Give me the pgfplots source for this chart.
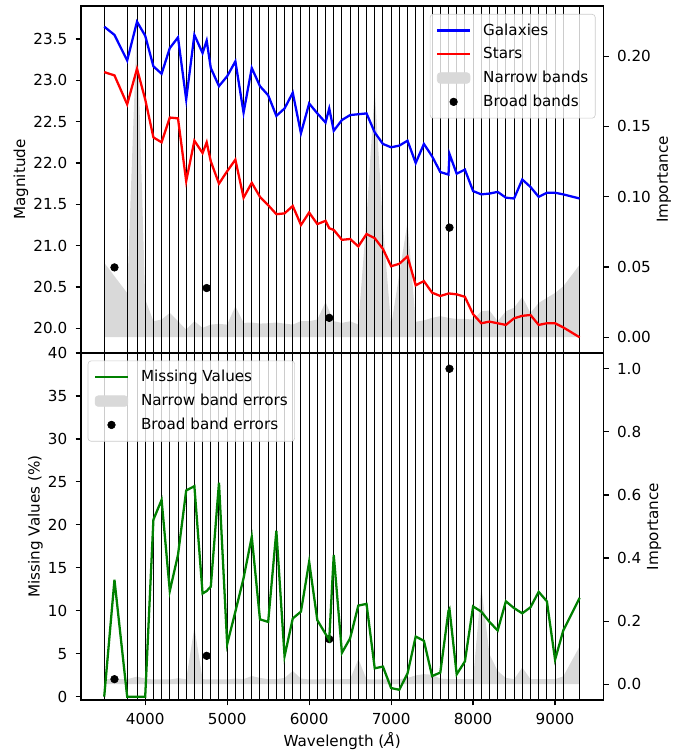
\documentclass[border=0pt]{standalone}
\usepackage{fontspec}
\setmainfont{DejaVu Sans}
\usepackage{pgfplots}
\usepackage{pgfplotstable}
\pgfplotsset{compat=1.18}

\definecolor{bandgray}{RGB}{217,217,217}
\definecolor{mvgreen}{RGB}{0,128,0}

% all bands (narrow + broad), sorted by wavelength
\pgfplotstableread{
wl    gal    star   miss
3500  23.65  23.10  0.0
3625  23.55  23.06  13.6
3780  23.24  22.71  0.0
3900  23.71  23.14  0.0
4000  23.54  22.77  0.0
4100  23.17  22.31  20.6
4200  23.08  22.25  22.9
4300  23.39  22.55  12.3
4400  23.52  22.54  16.5
4500  22.77  21.78  24.0
4600  23.55  22.27  24.5
4700  23.33  22.12  12.0
4750  23.48  22.25  12.3
4800  23.15  22.02  12.8
4900  22.93  21.75  24.9
5000  23.05  21.90  6.1
5100  23.23  22.04  9.9
5200  22.61  21.58  13.8
5300  23.15  21.76  18.6
5400  22.93  21.59  9.0
5500  22.82  21.49  8.7
5600  22.57  21.38  19.3
5700  22.66  21.39  4.7
5800  22.85  21.48  9.1
5900  22.36  21.25  9.9
6000  22.72  21.40  15.7
6100  22.60  21.26  8.9
6200  22.49  21.30  7.3
6245  22.66  21.21  6.6
6300  22.39  21.19  16.5
6400  22.52  21.07  5.1
6500  22.58  21.08  6.8
6600  22.59  20.99  10.6
6700  22.60  21.14  10.8
6800  22.37  21.09  3.3
6900  22.23  20.96  3.5
7000  22.19  20.75  1.0
7100  22.21  20.78  0.8
7200  22.27  20.87  2.7
7300  22.00  20.52  7.0
7400  22.23  20.57  6.5
7500  22.08  20.43  2.4
7600  21.89  20.39  2.8
7700  21.86  20.42  10.0
7712  22.11  20.42  10.2
7800  21.87  20.41  2.6
7900  21.92  20.38  4.1
8000  21.66  20.17  10.5
8100  21.62  20.06  9.9
8200  21.63  20.08  8.7
8300  21.65  20.06  7.7
8400  21.58  20.04  11.1
8500  21.57  20.12  10.3
8600  21.80  20.15  9.7
8700  21.71  20.16  10.4
8800  21.59  20.04  12.2
8900  21.64  20.06  11.1
9000  21.64  20.06  4.3
9100  21.62  20.01  7.7
9300  21.57  19.89  11.5
}\bands

% narrow bands: importance (magnitudes) and importance (errors)
\pgfplotstableread{
wl    imp     err
3500  0.053   0.016
3780  0.0315  0.016
3900  0.224   0.024
4000  0.027   0.018
4100  0.0114  0.015
4200  0.0126  0.015
4300  0.0173  0.015
4400  0.0114  0.019
4500  0.0055  0.016
4600  0.0114  0.18
4700  0.0067  0.016
4800  0.009   0.015
4900  0.0095  0.015
5000  0.009   0.015
5100  0.022   0.018
5200  0.0102  0.016
5300  0.0105  0.026
5400  0.0097  0.02
5500  0.010   0.016
5600  0.0105  0.016
5700  0.0097  0.02
5800  0.009   0.042
5900  0.0114  0.018
6000  0.0114  0.015
6100  0.0126  0.015
6200  0.025   0.018
6300  0.0114  0.015
6400  0.0102  0.016
6500  0.0114  0.016
6600  0.009   0.08
6700  0.085   0.016
6800  0.176   0.015
6900  0.08    0.015
7000  0.008   0.015
7100  0.045   0.016
7200  0.082   0.02
7300  0.011   0.028
7400  0.012   0.032
7500  0.0138  0.03
7600  0.015   0.018
7700  0.0138  0.016
7800  0.013   0.016
7900  0.013   0.016
8000  0.0126  0.016
8100  0.0185  0.31
8200  0.019   0.095
8300  0.0114  0.042
8400  0.0185  0.02
8500  0.021   0.016
8600  0.0287  0.053
8700  0.0173  0.016
8800  0.0244  0.016
8900  0.028   0.016
9000  0.0315  0.016
9100  0.0362  0.025
9300  0.0516  0.12
}\narrow

% broad bands u, g, r, i
\pgfplotstableread{
wl    imp     err
3625  0.0497  0.016
4750  0.035   0.090
6245  0.0138  0.143
7712  0.078   1.0
}\broad

\pgfplotsset{
  panel/.style={width=344pt, height=228.5pt, scale only axis,
    xmin=3216, xmax=9589,
    tick align=outside, major tick length=3.5pt,
    every tick/.style={black, line width=0.8pt},
    axis line style={line width=0.8pt},
    ticklabel shift=2pt,
    /pgf/number format/assume math mode=true,
    /pgf/number format/1000 sep={},
    tick label style={font=\fontsize{10}{12}\selectfont},
    label style={font=\fontsize{10}{12}\selectfont}},
  imppanel/.style={panel, ytick pos=right, yticklabel pos=right,
    ylabel={Importance}, ylabel style={yshift=3pt}},
  lgnd/.style={legend cell align=left, ylabel style={yshift=-3.5pt},
    legend style={draw=black!20, rounded corners=2pt, fill=white,
      fill opacity=0.8, text opacity=1, draw opacity=1,
      font=\fontsize{10}{12}\selectfont, inner xsep=4.5pt, inner ysep=4.2pt,
      nodes={inner xsep=0pt}, row sep=2.6pt,
      /tikz/every odd column/.append style={column sep=8.5pt}}},
  linelegend/.style={legend image code/.code={\draw[##1, line cap=rect] (0pt,0pt) -- (20pt,0pt);}},
  arealegend/.style={legend image code/.code={\fill[bandgray, fill opacity=1] (-0.75pt,-3.5pt) rectangle (20.75pt,3.5pt);}},
  dotlegend/.style={legend image code/.code={\path[draw=none] (0pt,0pt) -- (20pt,0pt); \fill[black, fill opacity=1] (10pt,0pt) circle (2.5pt);}},
  vline/.style={black, line width=0.65pt},
}

\begin{document}
\begin{tikzpicture}

% ---------------- top panel, importance axis
\begin{axis}[imppanel, name=top, ymin=-0.0112, ymax=0.2357, xtick=\empty,
  ytick={0,0.05,0.1,0.15,0.2},
  yticklabel style={/pgf/number format/.cd, fixed, fixed zerofill, precision=2}]
\addplot[fill=bandgray, draw=none] table[x=wl, y=imp]{\narrow} \closedcycle;
\pgfplotsinvokeforeach{3500,3780,3900,4000,4100,4200,4300,4400,4500,4600,4700,4800,4900,5000,5100,5200,5300,5400,5500,5600,5700,5800,5900,6000,6100,6200,6300,6400,6500,6600,6700,6800,6900,7000,7100,7200,7300,7400,7500,7600,7700,7800,7900,8000,8100,8200,8300,8400,8500,8600,8700,8800,8900,9000,9100,9300}{
  \addplot[vline] coordinates {(#1,-1) (#1,1)};
}
\addplot[only marks, mark=*, mark size=2.5pt, black] table[x=wl, y=imp]{\broad};
\end{axis}

% ---------------- top panel, magnitude axis
\begin{axis}[panel, lgnd, at={(top.south west)}, anchor=south west,
  ymin=19.70, ymax=23.90, xtick=\empty, ytick pos=left,
  ytick={20,20.5,21,21.5,22,22.5,23,23.5},
  yticklabel style={/pgf/number format/.cd, fixed, fixed zerofill, precision=1},
  ylabel={Magnitude},
  legend style={at={(0.985,0.977)}, anchor=north east}]
\addplot[blue, line width=1.5pt, linelegend] table[x=wl, y=gal]{\bands};
\addlegendentry{Galaxies}
\addplot[red, line width=1.5pt, linelegend] table[x=wl, y=star]{\bands};
\addlegendentry{Stars}
\addlegendimage{arealegend}
\addlegendentry{Narrow bands}
\addlegendimage{dotlegend}
\addlegendentry{Broad bands}
\end{axis}

% ---------------- bottom panel, importance axis
\begin{axis}[imppanel, name=bot, at={(top.south west)}, anchor=north west,
  ymin=-0.05, ymax=1.05, xtick=\empty,
  ytick={0,0.2,0.4,0.6,0.8,1.0},
  yticklabel style={/pgf/number format/.cd, fixed, fixed zerofill, precision=1}]
\addplot[fill=bandgray, draw=none] table[x=wl, y=err]{\narrow} \closedcycle;
\pgfplotsinvokeforeach{3500,3780,3900,4000,4100,4200,4300,4400,4500,4600,4700,4800,4900,5000,5100,5200,5300,5400,5500,5600,5700,5800,5900,6000,6100,6200,6300,6400,6500,6600,6700,6800,6900,7000,7100,7200,7300,7400,7500,7600,7700,7800,7900,8000,8100,8200,8300,8400,8500,8600,8700,8800,8900,9000,9100,9300}{
  \addplot[vline] coordinates {(#1,-1) (#1,2)};
}
\addplot[only marks, mark=*, mark size=2.5pt, black] table[x=wl, y=err]{\broad};
\end{axis}

% ---------------- bottom panel, missing values axis
\begin{axis}[panel, lgnd, at={(bot.south west)}, anchor=south west,
  ymin=-0.39, ymax=40, ytick pos=left, xtick pos=bottom,
  ytick={0,5,10,15,20,25,30,35,40},
  xtick={4000,5000,6000,7000,8000,9000},
  xlabel={Wavelength (\textit{Å})}, ylabel={Missing Values (\%)},
  xlabel style={yshift=2pt},
  legend style={at={(0.013,0.978)}, anchor=north west}]
\addplot[mvgreen, line width=1.5pt, linelegend] table[x=wl, y=miss]{\bands};
\addlegendentry{Missing Values}
\addlegendimage{arealegend}
\addlegendentry{Narrow band errors}
\addlegendimage{dotlegend}
\addlegendentry{Broad band errors}
\end{axis}

\pgfresetboundingbox
\path[use as bounding box] ([xshift=-53.3pt, yshift=3.95pt]top.north west)
  rectangle ([xshift=55.9pt, yshift=-34.9pt]bot.south east);
\end{tikzpicture}
\end{document}
